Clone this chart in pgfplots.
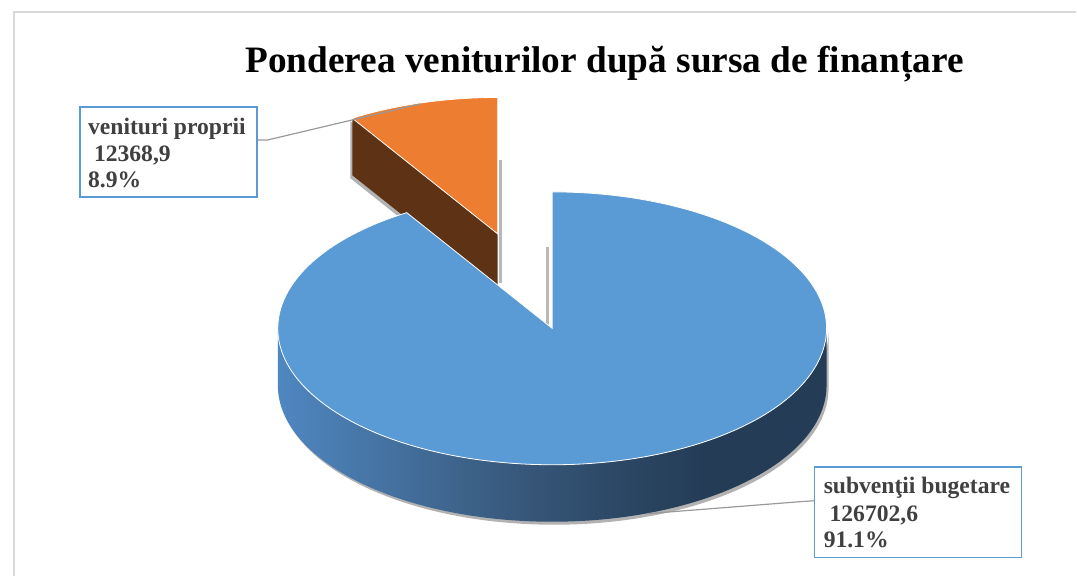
\documentclass[border=0pt]{standalone}
\usepackage{pgfplots}
\pgfplotsset{compat=1.18}
\usepackage{fontspec}
\setmainfont{Liberation Serif}

\definecolor{pieblue}{HTML}{5B9BD5}
\definecolor{pieorange}{HTML}{ED7D31}
\definecolor{piebrown}{HTML}{5E3215}
\definecolor{labtext}{HTML}{404040}
\definecolor{sideA}{HTML}{4F87C1}
\definecolor{sideB}{HTML}{3A5C80}
\definecolor{sideC}{HTML}{2D4967}
\definecolor{sideD}{HTML}{243C56}
\pgfdeclarehorizontalshading{pieside}{100bp}{color(0bp)=(sideA); color(25bp)=(sideA); color(45bp)=(sideB); color(55bp)=(sideC); color(64bp)=(sideD); color(75bp)=(sideD); color(100bp)=(sideD)}

% ---- data ----
\def\vA{126702.6} % subventii bugetare
\def\vB{12368.9}  % venituri proprii

% ---- geometry (pixel units, y downwards) ----
\def\cx{552.5}\def\cy{328.5}
\def\rx{274.5}\def\ry{136.5}
\def\dep{57}
\edef\thB{\fpeval{360*\vB/(\vA+\vB)}}
\edef\aS{\fpeval{90+\thB}}
\edef\aM{\fpeval{90+\thB/2}}
\edef\Ex{\fpeval{\cx+\rx*cosd(\aS)}}
\edef\Ey{\fpeval{\cy-\ry*sind(\aS)}}
\edef\Sx{\fpeval{\cx+0.72*\rx*cosd(\aM)}}
\edef\Sy{\fpeval{\cy-0.72*\ry*sind(\aM)}}
\edef\STy{\fpeval{\Sy-\ry}}
\edef\SEx{\fpeval{\Sx+\rx*cosd(\aS)}}
\edef\SEy{\fpeval{\Sy-\ry*sind(\aS)}}
\edef\SEyb{\fpeval{\SEy+\dep}}
\edef\Syb{\fpeval{\Sy+\dep}}
\edef\Lx{\fpeval{\cx-\rx}}
\edef\Ty{\fpeval{\cy-\ry}}

\begin{document}
\begin{tikzpicture}
\begin{axis}[x=1pt,y=1pt,xmin=0,xmax=1077,ymin=0,ymax=576,y dir=reverse,
  hide axis,clip=false]
\path (axis cs:0,0) rectangle (axis cs:1077,576);
% frame
\addplot[color=black!15,line width=1.2pt] coordinates {(14,576) (14,12) (1077,12)};

% ---- exploded slice: venituri proprii ----
\fill[black!30,shift={(-2pt,-3pt)}] (axis cs:\Sx,\Sy) -- (axis cs:\SEx,\SEy) -- (axis cs:\SEx,\SEyb) -- (axis cs:\Sx,\Syb) -- cycle;
\addplot[color=black!28,line width=3pt] coordinates {(\Sx+3,\Sy-74) (\Sx+3,\Syb-8)};
\fill[piebrown] (axis cs:\Sx,\Sy) -- (axis cs:\SEx,\SEy) -- (axis cs:\SEx,\SEyb) -- (axis cs:\Sx,\Syb) -- cycle;
\filldraw[fill=pieorange,draw=white,line width=0.8pt] (axis cs:\Sx,\STy) arc[start angle=90,end angle=\aS,x radius=\rx pt,y radius=\ry pt] -- (axis cs:\Sx,\Sy) -- cycle;
% leader line (left)
\addplot[color=black!40,line width=1.2pt] coordinates {(257,140) (268,140) (420,104)};

% ---- main slice: subventii bugetare ----
\addplot[color=black!28,line width=3pt] coordinates {(548,247) (548,327)};
\fill[black!30,shift={(2pt,-3pt)}] (axis cs:\Lx,\cy) arc[start angle=180,end angle=360,x radius=\rx pt,y radius=\ry pt] -- ++(0pt,-\dep pt) arc[start angle=360,end angle=180,x radius=\rx pt,y radius=\ry pt] -- cycle;
\shade[shading=pieside] (axis cs:\Lx,\cy) arc[start angle=180,end angle=360,x radius=\rx pt,y radius=\ry pt] -- ++(0pt,-\dep pt) arc[start angle=360,end angle=180,x radius=\rx pt,y radius=\ry pt] -- cycle;
\filldraw[fill=pieblue,draw=white,line width=0.8pt] (axis cs:\cx,\cy) -- (axis cs:\Ex,\Ey) arc[start angle=\aS,end angle=450,x radius=\rx pt,y radius=\ry pt] -- cycle;
% leader line (right)
\addplot[color=black!40,line width=1.2pt] coordinates {(815,501) (800,502) (647,514)};

% ---- labels ----
\draw[pieblue,line width=1.5pt,fill=white] (axis cs:80,107) rectangle (axis cs:257,197);
\draw[pieblue,line width=1.5pt,fill=white] (axis cs:815,467) rectangle (axis cs:1022,558);
\begin{scope}[every node/.style={anchor=base west,inner sep=0pt,text=labtext,font=\fontsize{23.6}{26}\selectfont\bfseries}]
\node at (axis cs:88,135) {venituri proprii};
\node at (axis cs:88,162) {\ 12368,9};
\node at (axis cs:88,188) {8.9\%};
\node at (axis cs:824,494) {subvenţii bugetare};
\node at (axis cs:824,522) {\ 126702,6};
\node at (axis cs:824,548) {91.1\%};
\end{scope}

% ---- title ----
\node[anchor=base,inner sep=0pt,font=\fontsize{37.3}{44}\selectfont\bfseries] at (axis cs:605,73) {Ponderea veniturilor după sursa de finanțare};
\end{axis}
\end{tikzpicture}
\end{document}
